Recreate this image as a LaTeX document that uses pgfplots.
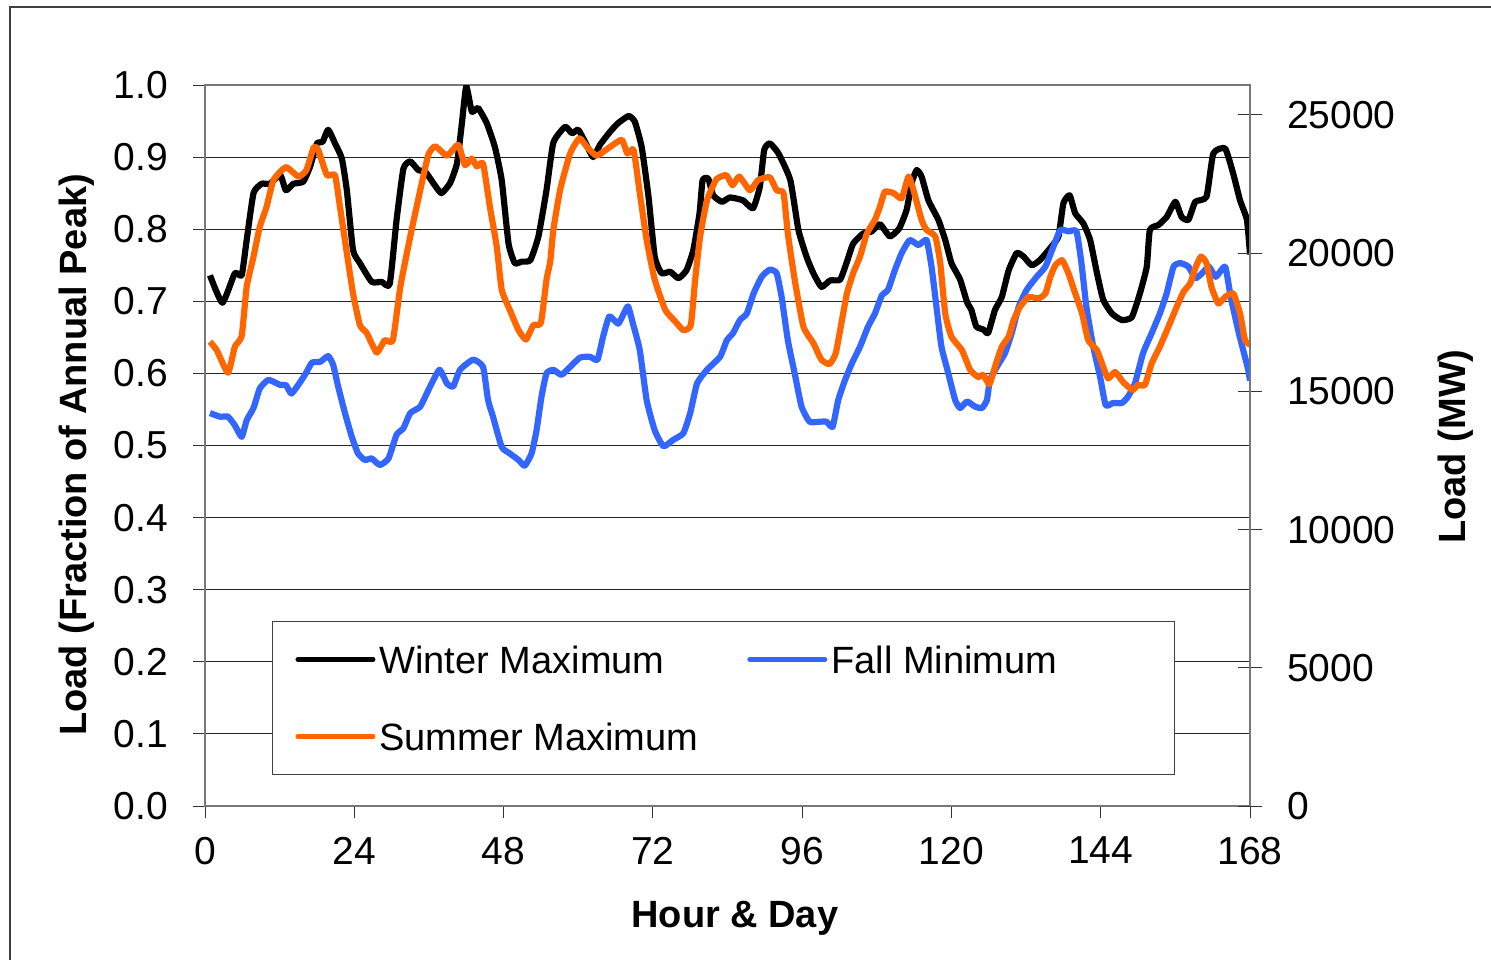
\documentclass[border=0pt]{standalone}
\usepackage{pgfplots}
\pgfplotsset{compat=1.18}
\usepackage{fontspec}
\setmainfont{Liberation Sans}
\definecolor{winter}{RGB}{0,0,0}
\definecolor{summer}{RGB}{255,102,0}
\definecolor{fall}{RGB}{51,102,255}
\definecolor{axgray}{RGB}{120,120,120}

\begin{document}
\begin{tikzpicture}
\useasboundingbox (0pt,0pt) rectangle (745.5pt,-479.5pt);
\draw[line width=0.7pt, black!75] (5pt,-490pt) -- (5pt,-3.5pt) -- (760pt,-3.5pt);
\begin{axis}[
  at={(102.5pt,-403pt)}, anchor=south west,
  scale only axis, width=522.5pt, height=360.5pt,
  xmin=0, xmax=168, ymin=0, ymax=1,
  xtick={0,24,48,72,96,120,144,168},
  ytick={0,0.1,0.2,0.3,0.4,0.5,0.6,0.7,0.8,0.9,1.0},
  xtick pos=bottom, ytick pos=left,
  tick align=outside, major tick length=6pt,
  tick style={black!80, line width=0.5pt},
  axis line style={axgray, line width=1pt},
  ymajorgrids, major grid style={black!85, line width=0.5pt},
  /pgf/number format/assume math mode=true,
  tick label style={font=\fontsize{19.5}{23}\selectfont},
  yticklabel style={xshift=-9pt, /pgf/number format/.cd, fixed, fixed zerofill, precision=1},
  xticklabel style={yshift=-6pt},
  xlabel={Hour \& Day},
  xlabel style={at={(axis description cs:0.507,-0.156)}, anchor=center, font=\bfseries\fontsize{19}{23}\selectfont},
  ylabel={Load (Fraction of Annual Peak)},
  ylabel style={at={(axis description cs:-0.1225,0.487)}, anchor=center, font=\bfseries\fontsize{19}{23}\selectfont},
  legend columns=2,
  legend cell align=left,
  legend image code/.code={\draw[#1, line width=2.5pt, line cap=round] (1.25pt,0pt) -- (38.75pt,0pt);},
  legend style={at={(axis description cs:0.0641,0.2566)}, anchor=north west,
    draw=black!75, line width=0.5pt, fill=white,
    font=\fontsize{19}{23}\selectfont,
    inner xsep=11.5pt, inner ysep=12pt, row sep=24.5pt,
    nodes={inner xsep=2pt, inner ysep=0pt, text height=14pt, text depth=0pt},
    /tikz/every even column/.append style={column sep=22.5pt}},
  every axis plot/.append style={line width=3.1pt, line join=round, smooth, tension=0.3},
]
\addplot[winter] coordinates {
(0.8,0.736)(2.8,0.698)(4.8,0.739)(5.9,0.736)(6.7,0.785)(7.8,0.850)(9.1,0.863)(10.4,0.863)
(12.1,0.875)(13.0,0.854)(14.2,0.863)(15.8,0.866)(16.9,0.887)(18.0,0.919)(18.9,0.921)(19.8,0.938)
(20.9,0.919)(22.0,0.898)(22.8,0.854)(23.8,0.771)(24.9,0.753)(26.8,0.727)(28.4,0.727)(29.7,0.724)
(30.8,0.813)(31.9,0.884)(33.0,0.894)(34.3,0.882)(35.4,0.880)(36.7,0.864)(38.0,0.850)(39.4,0.864)
(40.5,0.891)(41.3,0.947)(42.0,0.998)(42.9,0.963)(43.9,0.968)(45.3,0.947)(46.6,0.914)(47.7,0.868)
(48.8,0.780)(49.8,0.753)(50.9,0.755)(52.3,0.757)(53.6,0.790)(54.9,0.854)(56.0,0.920)(57.9,0.942)
(59.0,0.933)(60.0,0.938)(61.1,0.921)(62.4,0.900)(63.5,0.917)(65.1,0.935)(66.4,0.947)(68.1,0.957)
(69.1,0.949)(70.2,0.914)(71.3,0.845)(72.3,0.762)(73.4,0.739)(74.8,0.741)(76.1,0.732)(77.4,0.743)
(78.5,0.771)(79.5,0.822)(80.0,0.868)(80.9,0.870)(81.7,0.847)(83.1,0.838)(84.4,0.844)(86.5,0.840)
(88.1,0.829)(89.2,0.859)(89.9,0.910)(90.8,0.919)(92.2,0.905)(94.1,0.868)(95.4,0.799)(96.7,0.762)
(97.8,0.739)(99.1,0.720)(100.5,0.729)(102.1,0.730)(103.2,0.755)(104.2,0.780)(105.8,0.794)(107.2,0.797)
(108.5,0.807)(110.1,0.790)(111.6,0.801)(112.8,0.827)(113.6,0.864)(114.4,0.882)(115.2,0.873)(116.3,0.840)
(117.9,0.813)(119.0,0.785)(120.0,0.753)(121.4,0.730)(122.5,0.699)(123.2,0.688)(124.0,0.665)(125.1,0.661)
(125.9,0.656)(127.0,0.688)(128.1,0.706)(129.2,0.743)(130.5,0.767)(131.6,0.762)(132.9,0.750)(134.2,0.757)
(135.9,0.774)(137.2,0.790)(138.0,0.836)(139.0,0.847)(139.9,0.822)(141.2,0.808)(142.3,0.785)(143.4,0.739)
(144.4,0.702)(145.8,0.683)(147.4,0.674)(149.0,0.678)(150.3,0.711)(151.4,0.748)(151.9,0.799)(153.3,0.806)
(154.6,0.817)(156.0,0.838)(157.0,0.817)(158.1,0.813)(159.2,0.838)(161.0,0.845)(162.1,0.905)(164.0,0.912)
(165.3,0.877)(166.4,0.840)(167.5,0.813)(168.0,0.765)};
\addlegendentry{Winter Maximum}
\addplot[fall] coordinates {
(0.8,0.545)(2.4,0.540)(3.7,0.540)(4.8,0.528)(5.9,0.512)(6.7,0.535)(7.8,0.552)(8.8,0.579)
(10.2,0.591)(12.1,0.584)(13.0,0.584)(13.9,0.572)(15.3,0.588)(16.2,0.600)(17.2,0.615)(18.5,0.616)
(19.8,0.624)(20.6,0.612)(21.4,0.582)(22.5,0.545)(23.6,0.512)(24.6,0.489)(25.7,0.480)(26.8,0.482)
(28.1,0.473)(29.5,0.482)(30.8,0.515)(31.9,0.524)(33.0,0.545)(34.6,0.554)(36.2,0.582)(37.7,0.605)
(38.9,0.586)(39.9,0.582)(41.0,0.605)(43.1,0.619)(44.7,0.609)(45.5,0.563)(46.3,0.540)(47.7,0.498)
(49.0,0.489)(50.4,0.480)(51.4,0.472)(52.5,0.489)(53.3,0.521)(54.1,0.568)(54.9,0.600)(56.0,0.605)
(57.3,0.598)(58.7,0.609)(60.3,0.622)(61.9,0.623)(63.1,0.619)(64.0,0.651)(65.0,0.679)(66.4,0.669)
(67.1,0.679)(68.0,0.693)(68.8,0.669)(69.9,0.632)(71.0,0.563)(72.3,0.521)(73.7,0.499)(75.3,0.508)
(76.9,0.517)(78.0,0.545)(79.1,0.586)(80.7,0.605)(82.8,0.623)(83.9,0.646)(84.9,0.656)(86.0,0.674)
(87.1,0.683)(88.2,0.711)(89.5,0.734)(90.8,0.744)(91.9,0.739)(92.7,0.706)(93.7,0.646)(94.8,0.600)
(95.9,0.554)(97.2,0.533)(98.8,0.533)(99.9,0.533)(100.9,0.526)(101.8,0.563)(102.9,0.591)(104.0,0.614)
(105.3,0.637)(106.6,0.665)(107.7,0.683)(108.8,0.708)(109.8,0.716)(110.9,0.743)(112.0,0.767)(113.3,0.785)
(114.7,0.778)(116.0,0.785)(116.8,0.748)(117.6,0.692)(118.4,0.637)(119.5,0.600)(120.6,0.563)(121.4,0.552)
(122.5,0.561)(123.8,0.554)(124.9,0.552)(125.7,0.563)(126.2,0.591)(127.3,0.609)(128.6,0.628)(129.7,0.656)
(130.8,0.692)(132.1,0.716)(133.7,0.734)(135.1,0.748)(136.4,0.776)(137.5,0.799)(138.8,0.797)(140.1,0.797)
(140.9,0.753)(141.7,0.692)(142.8,0.637)(143.9,0.595)(144.8,0.556)(146.0,0.559)(147.4,0.559)(148.4,0.568)
(149.5,0.586)(150.8,0.628)(152.2,0.656)(153.5,0.683)(154.6,0.711)(155.7,0.748)(156.8,0.753)(158.1,0.748)
(159.2,0.732)(160.3,0.739)(161.4,0.748)(162.5,0.734)(164.0,0.748)(164.9,0.706)(166.2,0.656)(167.6,0.609)
(168.0,0.590)};
\addlegendentry{\makebox[158pt][l]{Fall Minimum}}
\addplot[summer] coordinates {
(0.8,0.644)(1.9,0.632)(3.7,0.601)(4.8,0.637)(5.9,0.652)(6.7,0.720)(7.8,0.762)(8.8,0.803)
(9.9,0.831)(11.0,0.868)(13.0,0.886)(15.0,0.873)(16.3,0.882)(17.5,0.914)(18.2,0.910)(19.6,0.875)
(20.9,0.875)(21.7,0.831)(22.8,0.767)(23.8,0.711)(24.9,0.667)(26.0,0.656)(27.6,0.629)(28.9,0.646)
(30.2,0.646)(31.4,0.720)(33.0,0.790)(34.6,0.854)(35.9,0.903)(37.0,0.915)(38.9,0.902)(40.7,0.917)
(41.8,0.889)(42.9,0.898)(43.7,0.887)(44.7,0.891)(45.8,0.831)(46.9,0.776)(47.7,0.716)(49.0,0.688)
(50.4,0.660)(51.6,0.647)(52.8,0.667)(54.0,0.670)(54.9,0.730)(55.5,0.755)(56.0,0.799)(57.1,0.855)
(58.7,0.905)(60.2,0.926)(61.6,0.912)(63.0,0.902)(65.1,0.914)(67.0,0.924)(67.9,0.905)(68.9,0.910)
(69.9,0.850)(71.0,0.785)(72.3,0.730)(74.0,0.688)(75.6,0.672)(76.9,0.660)(78.1,0.667)(78.8,0.730)
(79.6,0.790)(80.7,0.840)(82.2,0.869)(83.8,0.875)(84.8,0.861)(85.9,0.873)(87.6,0.854)(88.9,0.868)
(90.8,0.872)(91.9,0.854)(93.0,0.850)(93.7,0.794)(94.8,0.730)(96.2,0.665)(97.8,0.642)(99.1,0.619)
(100.4,0.613)(101.4,0.628)(102.4,0.674)(103.2,0.711)(104.2,0.739)(105.3,0.762)(106.4,0.794)(107.7,0.813)
(108.5,0.831)(109.3,0.852)(110.7,0.850)(112.0,0.843)(113.1,0.873)(113.9,0.854)(115.2,0.813)(116.0,0.799)
(117.4,0.790)(118.2,0.753)(119.0,0.683)(120.0,0.651)(121.7,0.632)(123.0,0.605)(124.3,0.595)(125.1,0.598)
(126.1,0.585)(127.0,0.609)(128.1,0.637)(129.2,0.651)(130.0,0.674)(131.0,0.692)(132.4,0.706)(134.0,0.704)
(135.1,0.711)(135.9,0.734)(136.7,0.750)(137.8,0.757)(138.8,0.739)(139.9,0.711)(141.0,0.683)(142.0,0.646)
(143.4,0.632)(144.4,0.609)(145.2,0.593)(146.3,0.602)(147.6,0.588)(149.1,0.577)(150.0,0.584)(151.1,0.584)
(152.2,0.614)(153.5,0.637)(154.9,0.665)(156.2,0.692)(157.3,0.713)(158.4,0.725)(159.2,0.746)(160.1,0.762)
(161.0,0.753)(161.8,0.720)(162.9,0.697)(164.0,0.706)(165.3,0.711)(166.4,0.683)(167.2,0.646)(168.0,0.640)};
\addlegendentry{Summer Maximum}
\end{axis}
\begin{axis}[
  at={(102.5pt,-403pt)}, anchor=south west,
  scale only axis, width=522.5pt, height=360.5pt,
  xmin=0, xmax=168, ymin=0, ymax=26085,
  hide x axis, axis y line*=right,
  ytick={0,5000,10000,15000,20000,25000},
  scaled y ticks=false,
  tick align=center, major tick length=12pt,
  tick style={black!80, line width=0.5pt},
  axis line style={axgray, line width=1pt},
  /pgf/number format/assume math mode=true,
  /pgf/number format/set thousands separator={},
  tick label style={font=\fontsize{19.5}{23}\selectfont},
  yticklabel style={xshift=9pt},
  ylabel={Load (MW)},
  ylabel style={at={(axis description cs:1.197,0.4986)}, anchor=center, font=\bfseries\fontsize{19}{23}\selectfont},
]
\addplot[draw=none] coordinates {(0,0)(168,26000)};
\end{axis}
\end{tikzpicture}
\end{document}
